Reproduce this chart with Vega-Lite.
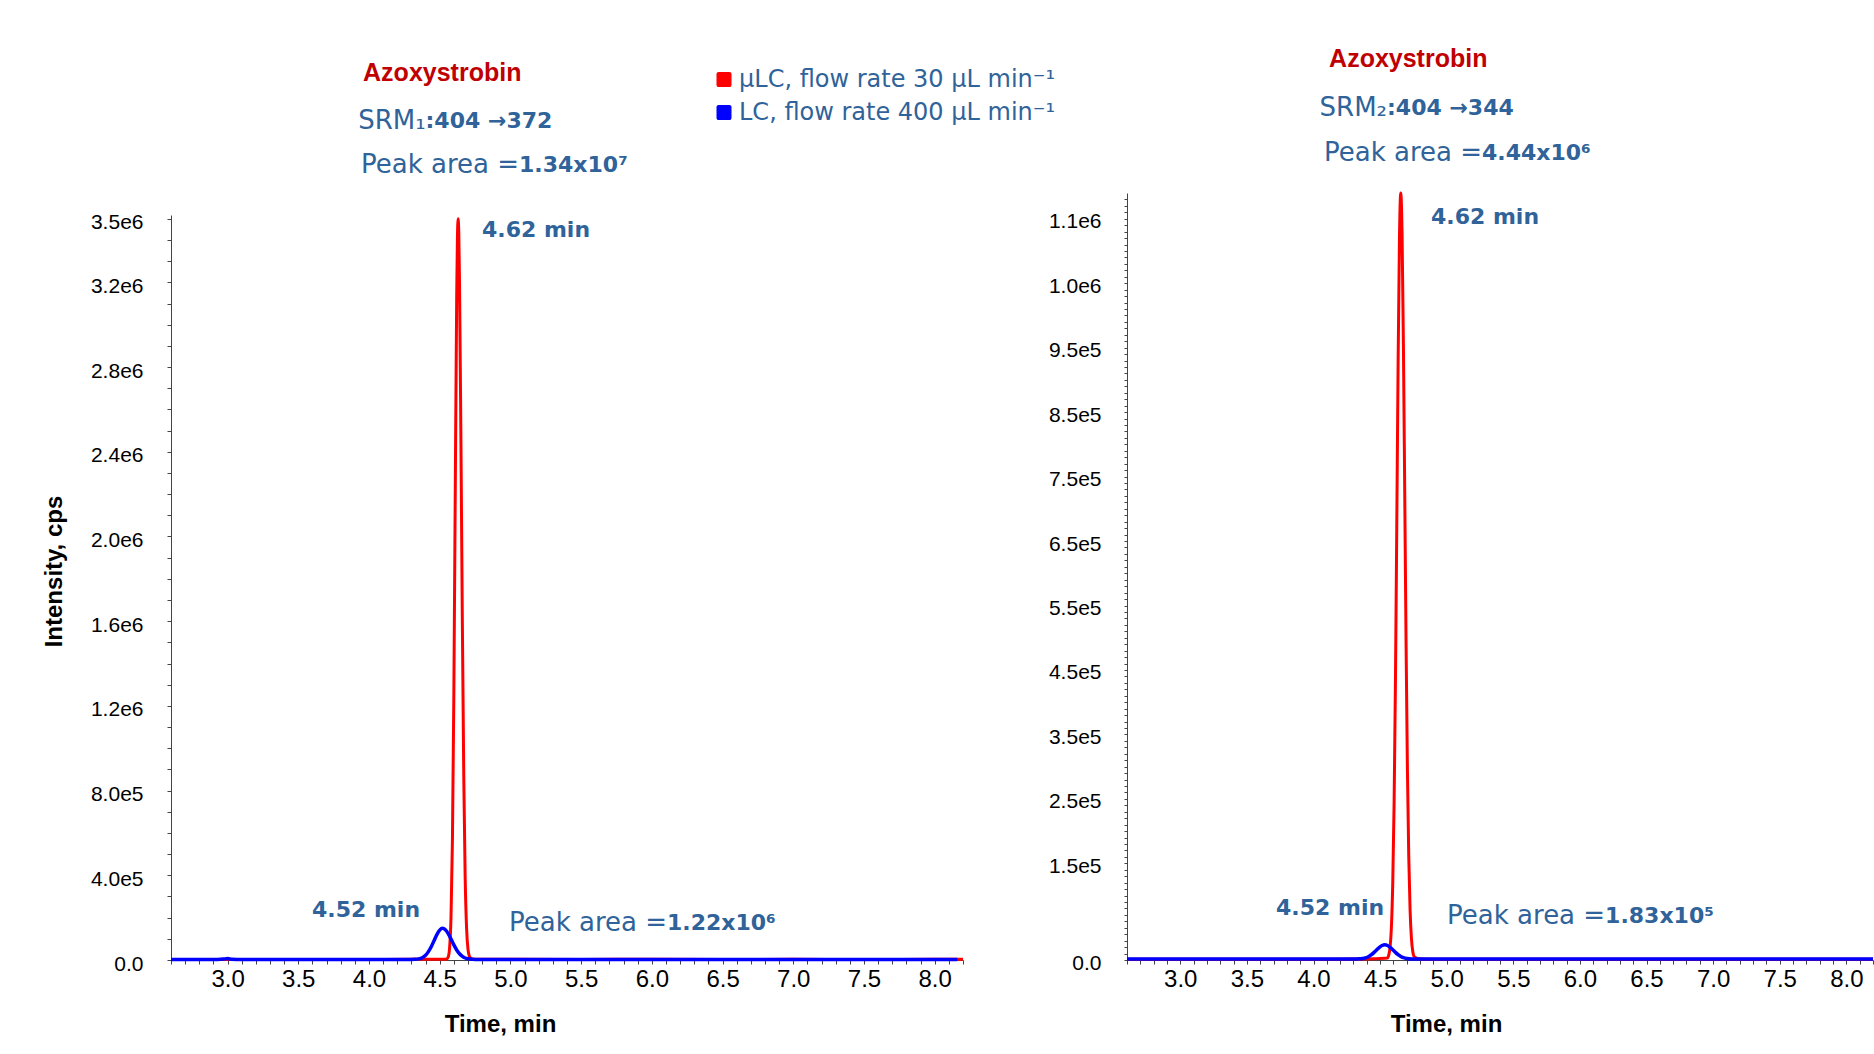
{
  "$schema": "https://vega.github.io/schema/vega-lite/v6.json",
  "background": "white",
  "autosize": {"type": "pad"},
  "padding": {"left": 42, "top": 47, "right": 0, "bottom": 0},
  "spacing": 164,
  "bounds": "flush",
  "config": {
    "view": {"stroke": null},
    "axis": {"labelColor": "black", "tickColor": "#444", "domainColor": "#444", "grid": false, "labelOverlap": false, "labelFlush": false}
  },
  "resolve": {"scale": {"x": "independent", "y": "independent"}},
  "datasets": {
    "left_traces": [
      {"series": "µLC", "time": 2.6, "intensity": 2000}, {"series": "µLC", "time": 3.0, "intensity": 2500}, {"series": "µLC", "time": 3.5, "intensity": 2000},
      {"series": "µLC", "time": 4.0, "intensity": 2500}, {"series": "µLC", "time": 4.3, "intensity": 3000}, {"series": "µLC", "time": 4.5, "intensity": 3000},
      {"series": "µLC", "time": 4.54, "intensity": 3500}, {"series": "µLC", "time": 4.55, "intensity": 5000}, {"series": "µLC", "time": 4.56, "intensity": 14000},
      {"series": "µLC", "time": 4.57, "intensity": 59000}, {"series": "µLC", "time": 4.58, "intensity": 206000}, {"series": "µLC", "time": 4.59, "intensity": 570000},
      {"series": "µLC", "time": 4.6, "intensity": 1260000}, {"series": "µLC", "time": 4.61, "intensity": 2220000}, {"series": "µLC", "time": 4.62, "intensity": 3130000},
      {"series": "µLC", "time": 4.625, "intensity": 3400000}, {"series": "µLC", "time": 4.63, "intensity": 3500000}, {"series": "µLC", "time": 4.635, "intensity": 3430000},
      {"series": "µLC", "time": 4.64, "intensity": 3200000}, {"series": "µLC", "time": 4.65, "intensity": 2450000}, {"series": "µLC", "time": 4.66, "intensity": 1600000},
      {"series": "µLC", "time": 4.67, "intensity": 870000}, {"series": "µLC", "time": 4.68, "intensity": 390000}, {"series": "µLC", "time": 4.69, "intensity": 150000},
      {"series": "µLC", "time": 4.7, "intensity": 50000}, {"series": "µLC", "time": 4.71, "intensity": 18000}, {"series": "µLC", "time": 4.72, "intensity": 8000},
      {"series": "µLC", "time": 4.74, "intensity": 4000}, {"series": "µLC", "time": 4.78, "intensity": 3000}, {"series": "µLC", "time": 5.0, "intensity": 3000},
      {"series": "µLC", "time": 5.5, "intensity": 2500}, {"series": "µLC", "time": 6.0, "intensity": 3500}, {"series": "µLC", "time": 6.5, "intensity": 2500},
      {"series": "µLC", "time": 7.0, "intensity": 3000}, {"series": "µLC", "time": 7.5, "intensity": 2500}, {"series": "µLC", "time": 8.0, "intensity": 3000},
      {"series": "µLC", "time": 8.2, "intensity": 3000},
      {"series": "LC", "time": 2.6, "intensity": 2000}, {"series": "LC", "time": 2.9, "intensity": 2000}, {"series": "LC", "time": 2.97, "intensity": 4500},
      {"series": "LC", "time": 3.0, "intensity": 6500}, {"series": "LC", "time": 3.03, "intensity": 4000}, {"series": "LC", "time": 3.1, "intensity": 2000},
      {"series": "LC", "time": 3.5, "intensity": 2000}, {"series": "LC", "time": 4.0, "intensity": 2500}, {"series": "LC", "time": 4.2, "intensity": 2500},
      {"series": "LC", "time": 4.3, "intensity": 2800}, {"series": "LC", "time": 4.32, "intensity": 3100}, {"series": "LC", "time": 4.34, "intensity": 4100},
      {"series": "LC", "time": 4.36, "intensity": 6800}, {"series": "LC", "time": 4.38, "intensity": 12200}, {"series": "LC", "time": 4.4, "intensity": 22500},
      {"series": "LC", "time": 4.42, "intensity": 39500}, {"series": "LC", "time": 4.44, "intensity": 62500}, {"series": "LC", "time": 4.46, "intensity": 91500},
      {"series": "LC", "time": 4.48, "intensity": 120000}, {"series": "LC", "time": 4.5, "intensity": 141000}, {"series": "LC", "time": 4.52, "intensity": 149500},
      {"series": "LC", "time": 4.54, "intensity": 142500}, {"series": "LC", "time": 4.56, "intensity": 124500}, {"series": "LC", "time": 4.58, "intensity": 98500},
      {"series": "LC", "time": 4.6, "intensity": 71500}, {"series": "LC", "time": 4.62, "intensity": 47500}, {"series": "LC", "time": 4.64, "intensity": 29500},
      {"series": "LC", "time": 4.66, "intensity": 17000}, {"series": "LC", "time": 4.68, "intensity": 9500}, {"series": "LC", "time": 4.7, "intensity": 5700},
      {"series": "LC", "time": 4.73, "intensity": 3500}, {"series": "LC", "time": 4.78, "intensity": 2500}, {"series": "LC", "time": 5.0, "intensity": 2500},
      {"series": "LC", "time": 5.5, "intensity": 2000}, {"series": "LC", "time": 6.0, "intensity": 2500}, {"series": "LC", "time": 6.5, "intensity": 2000},
      {"series": "LC", "time": 7.0, "intensity": 2500}, {"series": "LC", "time": 7.5, "intensity": 2000}, {"series": "LC", "time": 8.0, "intensity": 2500},
      {"series": "LC", "time": 8.16, "intensity": 2500}
    ],
    "right_traces": [
      {"series": "µLC", "time": 2.6, "intensity": 1000}, {"series": "µLC", "time": 3.0, "intensity": 1200}, {"series": "µLC", "time": 3.5, "intensity": 1000},
      {"series": "µLC", "time": 4.0, "intensity": 1200}, {"series": "µLC", "time": 4.3, "intensity": 1500}, {"series": "µLC", "time": 4.45, "intensity": 2000},
      {"series": "µLC", "time": 4.555, "intensity": 3000}, {"series": "µLC", "time": 4.565, "intensity": 8000}, {"series": "µLC", "time": 4.575, "intensity": 20000},
      {"series": "µLC", "time": 4.585, "intensity": 52000}, {"series": "µLC", "time": 4.595, "intensity": 120000}, {"series": "µLC", "time": 4.605, "intensity": 242000},
      {"series": "µLC", "time": 4.615, "intensity": 429000}, {"series": "µLC", "time": 4.625, "intensity": 670000}, {"series": "µLC", "time": 4.635, "intensity": 922000},
      {"series": "µLC", "time": 4.645, "intensity": 1116000}, {"series": "µLC", "time": 4.655, "intensity": 1190000}, {"series": "µLC", "time": 4.665, "intensity": 1125000},
      {"series": "µLC", "time": 4.675, "intensity": 953000}, {"series": "µLC", "time": 4.685, "intensity": 722000}, {"series": "µLC", "time": 4.695, "intensity": 489000},
      {"series": "µLC", "time": 4.705, "intensity": 296000}, {"series": "µLC", "time": 4.715, "intensity": 161000}, {"series": "µLC", "time": 4.725, "intensity": 78000},
      {"series": "µLC", "time": 4.735, "intensity": 34000}, {"series": "µLC", "time": 4.745, "intensity": 13500}, {"series": "µLC", "time": 4.755, "intensity": 5500},
      {"series": "µLC", "time": 4.78, "intensity": 2500}, {"series": "µLC", "time": 4.81, "intensity": 1500}, {"series": "µLC", "time": 4.9, "intensity": 1000},
      {"series": "µLC", "time": 5.5, "intensity": 1000}, {"series": "µLC", "time": 6.0, "intensity": 1200}, {"series": "µLC", "time": 6.5, "intensity": 1000},
      {"series": "µLC", "time": 7.0, "intensity": 1200}, {"series": "µLC", "time": 7.5, "intensity": 1000}, {"series": "µLC", "time": 8.0, "intensity": 1200},
      {"series": "µLC", "time": 8.2, "intensity": 1000},
      {"series": "LC", "time": 2.6, "intensity": 1500}, {"series": "LC", "time": 3.0, "intensity": 1500}, {"series": "LC", "time": 3.5, "intensity": 1500},
      {"series": "LC", "time": 4.0, "intensity": 1500}, {"series": "LC", "time": 4.3, "intensity": 1500}, {"series": "LC", "time": 4.33, "intensity": 1700},
      {"series": "LC", "time": 4.37, "intensity": 2400}, {"series": "LC", "time": 4.39, "intensity": 3400}, {"series": "LC", "time": 4.415, "intensity": 5500},
      {"series": "LC", "time": 4.435, "intensity": 8200}, {"series": "LC", "time": 4.455, "intensity": 11800}, {"series": "LC", "time": 4.475, "intensity": 15900},
      {"series": "LC", "time": 4.495, "intensity": 19700}, {"series": "LC", "time": 4.515, "intensity": 22500}, {"series": "LC", "time": 4.535, "intensity": 23500},
      {"series": "LC", "time": 4.555, "intensity": 22500}, {"series": "LC", "time": 4.575, "intensity": 19700}, {"series": "LC", "time": 4.595, "intensity": 15900},
      {"series": "LC", "time": 4.615, "intensity": 11800}, {"series": "LC", "time": 4.635, "intensity": 8200}, {"series": "LC", "time": 4.655, "intensity": 5500},
      {"series": "LC", "time": 4.675, "intensity": 3700}, {"series": "LC", "time": 4.7, "intensity": 2300}, {"series": "LC", "time": 4.74, "intensity": 1500},
      {"series": "LC", "time": 5.0, "intensity": 1500}, {"series": "LC", "time": 5.5, "intensity": 1500}, {"series": "LC", "time": 6.0, "intensity": 1500},
      {"series": "LC", "time": 6.5, "intensity": 1500}, {"series": "LC", "time": 7.0, "intensity": 1500}, {"series": "LC", "time": 7.5, "intensity": 1500},
      {"series": "LC", "time": 8.0, "intensity": 1500}, {"series": "LC", "time": 8.2, "intensity": 1500}
    ],
    "left_notes": [
      {"time": 3.958, "intensity": 4187000, "text": "Azoxystrobin", "style": "title"},
      {"time": 4.40, "intensity": 3964000, "text": "SRM₁", "style": "plain"},
      {"time": 4.40, "intensity": 3964000, "text": ":404 →372", "style": "bold"},
      {"time": 5.061, "intensity": 3753000, "text": "Peak area =\u00a0", "style": "plain"},
      {"time": 5.061, "intensity": 3753000, "text": "1.34x10⁷", "style": "bold"},
      {"time": 4.799, "intensity": 3446000, "text": "4.62 min", "style": "bold"},
      {"time": 3.597, "intensity": 234300, "text": "4.52 min", "style": "bold"},
      {"time": 6.107, "intensity": 172900, "text": "Peak area =\u00a0", "style": "plain"},
      {"time": 6.107, "intensity": 172900, "text": "1.22x10⁶", "style": "bold"}
    ],
    "right_notes": [
      {"time": 4.117, "intensity": 1397300, "text": "Azoxystrobin", "style": "title"},
      {"time": 4.552, "intensity": 1321300, "text": "SRM₂", "style": "plain"},
      {"time": 4.552, "intensity": 1321300, "text": ":404 →344", "style": "bold"},
      {"time": 5.265, "intensity": 1251300, "text": "Peak area =\u00a0", "style": "plain"},
      {"time": 5.265, "intensity": 1251300, "text": "4.44x10⁶", "style": "bold"},
      {"time": 4.882, "intensity": 1153300, "text": "4.62 min", "style": "bold"},
      {"time": 3.719, "intensity": 80100, "text": "4.52 min", "style": "bold"},
      {"time": 6.189, "intensity": 68000, "text": "Peak area =\u00a0", "style": "plain"},
      {"time": 6.189, "intensity": 68000, "text": "1.83x10⁵", "style": "bold"}
    ]
  },
  "hconcat": [
    {
      "width": 792,
      "height": 767,
      "encoding": {
        "x": {
          "field": "time", "type": "quantitative",
          "scale": {"domain": [2.6, 8.2], "nice": false, "zero": false},
          "axis": {
            "values": [2.6,2.7,2.8,2.9,3,3.1,3.2,3.3,3.4,3.5,3.6,3.7,3.8,3.9,4,4.1,4.2,4.3,4.4,4.5,4.6,4.7,4.8,4.9,5,5.1,5.2,5.3,5.4,5.5,5.6,5.7,5.8,5.9,6,6.1,6.2,6.3,6.4,6.5,6.6,6.7,6.8,6.9,7,7.1,7.2,7.3,7.4,7.5,7.6,7.7,7.8,7.9,8,8.1,8.2],
            "labelExpr": "(datum.value > 2.95 && datum.value < 8.05 && abs(datum.value * 2 - round(datum.value * 2)) < 0.001) ? format(datum.value, '.1f') : ''",
            "labelFont": "Liberation Sans Narrow, Liberation Sans, Arial", "labelFontSize": 24, "labelPadding": 3,
            "tickSize": 4,
            "title": "Time, min", "titleFont": "Liberation Sans", "titleFontWeight": "bold", "titleFontSize": 24, "titleColor": "black",
            "titleX": 329, "titleY": 64, "titleBaseline": "middle", "titleAlign": "center"
          }
        },
        "y": {
          "field": "intensity", "type": "quantitative",
          "scale": {"domain": [0, 3622000], "nice": false, "zero": false},
          "axis": {
            "values": [0,100000,200000,300000,400000,500000,600000,700000,800000,900000,1000000,1100000,1200000,1300000,1400000,1500000,1600000,1700000,1800000,1900000,2000000,2100000,2200000,2300000,2400000,2500000,2600000,2700000,2800000,2900000,3000000,3100000,3200000,3300000,3400000,3500000],
            "labelExpr": "(datum.value % 400000 == 0 || datum.value == 3500000) ? (datum.value == 0 ? '0.0' : (datum.value < 1000000 ? format(datum.value / 100000, '.1f') + 'e5' : format(datum.value / 1000000, '.1f') + 'e6')) : ''",
            "labelFont": "Liberation Sans", "labelFontSize": 21, "labelPadding": 24, "labelBaseline": "middle", "labelOffset": 4,
            "tickSize": 4, "domain": true, "domainDash": [745, 60],
            "title": "Intensity, cps", "titleFont": "Liberation Sans", "titleFontWeight": "bold", "titleFontSize": 24, "titleColor": "black",
            "titleX": -117, "titleY": 378, "titleAngle": -90, "titleBaseline": "middle", "titleAlign": "center"
          }
        }
      },
      "layer": [
        {
          "data": {"name": "left_traces"},
          "transform": [{"filter": {"field": "series", "equal": "µLC"}}],
          "mark": {"type": "line", "strokeWidth": 3, "interpolate": "monotone"},
          "encoding": {
            "color": {
              "field": "series", "type": "nominal",
              "scale": {"domain": ["µLC", "LC"], "range": ["#FF0000", "#0000FF"]},
              "legend": {
                "orient": "none", "legendX": 541, "legendY": -125.5, "title": null,
                "symbolType": "M-0.72,-1H0.72A0.28,0.28,0,0,1,1,-0.72V0.72A0.28,0.28,0,0,1,0.72,1H-0.72A0.28,0.28,0,0,1,-1,0.72V-0.72A0.28,0.28,0,0,1,-0.72,-1Z",
                "symbolSize": 225,
                "labelFont": "DejaVu Sans", "labelFontSize": 24, "labelColor": "#2F6399", "labelOffset": 3, "rowPadding": 9, "labelLimit": 0,
                "labelExpr": "datum.label == 'µLC' ? 'µLC, flow rate 30 µL min⁻¹' : 'LC, flow rate 400 µL min⁻¹'",
                "encode": {"symbols": {"update": {"fill": {"scale": "color", "field": "value"}, "fillOpacity": {"value": 1}, "strokeWidth": {"value": 0}}}}
              }
            }
          }
        },
        {
          "data": {"name": "left_traces"},
          "transform": [{"filter": {"field": "series", "equal": "LC"}}],
          "mark": {"type": "line", "strokeWidth": 3.5, "interpolate": "monotone"},
          "encoding": {"color": {"field": "series", "type": "nominal"}}
        },
        {
          "data": {"name": "left_notes"},
          "transform": [{"filter": {"field": "style", "equal": "title"}}],
          "mark": {"type": "text", "align": "left", "baseline": "middle", "font": "Liberation Sans", "fontWeight": "bold", "fontSize": 25, "color": "#C00000"},
          "encoding": {"text": {"field": "text"}}
        },
        {
          "data": {"name": "left_notes"},
          "transform": [{"filter": {"field": "style", "equal": "plain"}}],
          "mark": {"type": "text", "align": "right", "baseline": "middle", "font": "DejaVu Sans", "fontSize": 26, "color": "#2F6399"},
          "encoding": {"text": {"field": "text"}}
        },
        {
          "data": {"name": "left_notes"},
          "transform": [{"filter": {"field": "style", "equal": "bold"}}],
          "mark": {"type": "text", "align": "left", "baseline": "middle", "font": "DejaVu Sans", "fontWeight": "bold", "fontSize": 22, "color": "#2F6399"},
          "encoding": {"text": {"field": "text"}}
        }
      ]
    },
    {
      "width": 746,
      "height": 767,
      "encoding": {
        "x": {
          "field": "time", "type": "quantitative",
          "scale": {"domain": [2.6, 8.2], "nice": false, "zero": false},
          "axis": {
            "values": [2.6,2.7,2.8,2.9,3,3.1,3.2,3.3,3.4,3.5,3.6,3.7,3.8,3.9,4,4.1,4.2,4.3,4.4,4.5,4.6,4.7,4.8,4.9,5,5.1,5.2,5.3,5.4,5.5,5.6,5.7,5.8,5.9,6,6.1,6.2,6.3,6.4,6.5,6.6,6.7,6.8,6.9,7,7.1,7.2,7.3,7.4,7.5,7.6,7.7,7.8,7.9,8,8.1,8.2],
            "labelExpr": "(datum.value > 2.95 && datum.value < 8.05 && abs(datum.value * 2 - round(datum.value * 2)) < 0.001) ? format(datum.value, '.1f') : ''",
            "labelFont": "Liberation Sans Narrow, Liberation Sans, Arial", "labelFontSize": 24, "labelPadding": 3,
            "tickSize": 4,
            "title": "Time, min", "titleFont": "Liberation Sans", "titleFontWeight": "bold", "titleFontSize": 24, "titleColor": "black",
            "titleX": 319, "titleY": 64, "titleBaseline": "middle", "titleAlign": "center"
          }
        },
        "y": {
          "field": "intensity", "type": "quantitative",
          "scale": {"domain": [0, 1190000], "nice": false, "zero": false},
          "axis": {
            "values": [0,10000,20000,30000,40000,50000,60000,70000,80000,90000,100000,110000,120000,130000,140000,150000,160000,170000,180000,190000,200000,210000,220000,230000,240000,250000,260000,270000,280000,290000,300000,310000,320000,330000,340000,350000,360000,370000,380000,390000,400000,410000,420000,430000,440000,450000,460000,470000,480000,490000,500000,510000,520000,530000,540000,550000,560000,570000,580000,590000,600000,610000,620000,630000,640000,650000,660000,670000,680000,690000,700000,710000,720000,730000,740000,750000,760000,770000,780000,790000,800000,810000,820000,830000,840000,850000,860000,870000,880000,890000,900000,910000,920000,930000,940000,950000,960000,970000,980000,990000,1000000,1010000,1020000,1030000,1040000,1050000,1060000,1070000,1080000,1090000,1100000,1110000,1120000,1130000,1140000,1150000,1160000,1170000,1180000],
            "labelExpr": "datum.value == 0 ? '0.0' : ((datum.value >= 150000 && datum.value % 100000 == 50000) ? (datum.value < 1000000 ? format(datum.value / 100000, '.1f') + 'e5' : (datum.value == 1050000 ? '1.0e6' : '1.1e6')) : '')",
            "labelFont": "Liberation Sans", "labelFontSize": 21, "labelPadding": 23, "labelBaseline": "middle", "labelOffset": 3,
            "tickSize": 3, "domain": true,
            "title": null
          }
        }
      },
      "layer": [
        {
          "data": {"name": "right_traces"},
          "transform": [{"filter": {"field": "series", "equal": "µLC"}}],
          "mark": {"type": "line", "strokeWidth": 3, "interpolate": "monotone", "color": "#FF0000"}
        },
        {
          "data": {"name": "right_traces"},
          "transform": [{"filter": {"field": "series", "equal": "LC"}}],
          "mark": {"type": "line", "strokeWidth": 3.5, "interpolate": "monotone", "color": "#0000FF"}
        },
        {
          "data": {"name": "right_notes"},
          "transform": [{"filter": {"field": "style", "equal": "title"}}],
          "mark": {"type": "text", "align": "left", "baseline": "middle", "font": "Liberation Sans", "fontWeight": "bold", "fontSize": 25, "color": "#C00000"},
          "encoding": {"text": {"field": "text"}}
        },
        {
          "data": {"name": "right_notes"},
          "transform": [{"filter": {"field": "style", "equal": "plain"}}],
          "mark": {"type": "text", "align": "right", "baseline": "middle", "font": "DejaVu Sans", "fontSize": 26, "color": "#2F6399"},
          "encoding": {"text": {"field": "text"}}
        },
        {
          "data": {"name": "right_notes"},
          "transform": [{"filter": {"field": "style", "equal": "bold"}}],
          "mark": {"type": "text", "align": "left", "baseline": "middle", "font": "DejaVu Sans", "fontWeight": "bold", "fontSize": 22, "color": "#2F6399"},
          "encoding": {"text": {"field": "text"}}
        }
      ]
    }
  ]
}
